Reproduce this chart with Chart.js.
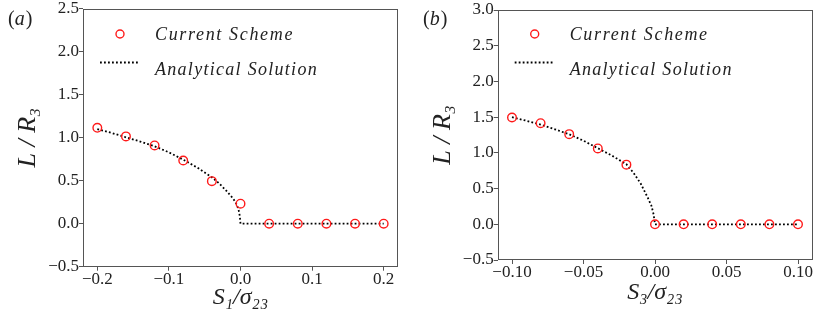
<!DOCTYPE html>
<html>
<head>
<meta charset="utf-8">
<script src="https://cdn.jsdelivr.net/npm/chart.js@4.4.0/dist/chart.umd.min.js"></script>
<style>
  html, body { margin: 0; padding: 0; background: #fff; }
  #wrap { display: flex; width: 830px; height: 312px; }
  canvas { display: block; }
</style>
</head>
<body>
<div id="wrap">
  <canvas id="panelA" width="415" height="312"></canvas>
  <canvas id="panelB" width="415" height="312"></canvas>
</div>
<script>
// ── DATA ───────────────────────────────────────────────────────
// (a) S1 / sigma23
const A_SCHEME_X = [-0.2, -0.16, -0.12, -0.08, -0.04, 0, 0.04, 0.08, 0.12, 0.16, 0.2];
const A_SCHEME_Y = [1.115, 1.015, 0.91, 0.735, 0.495, 0.233, 0, 0, 0, 0, 0];
const A_EXACT_X  = [-0.2, -0.18, -0.16, -0.14, -0.12, -0.10, -0.08, -0.06, -0.04, -0.03, -0.02, -0.01, -0.005, -0.0025, -0.001, 0, 0.2];
const A_EXACT_Y  = [1.10, 1.055, 1.005, 0.955, 0.90, 0.83, 0.745, 0.65, 0.54, 0.47, 0.385, 0.29, 0.22, 0.155, 0.09, 0, 0];
const A_X_TICKS  = [-0.2, -0.1, 0, 0.1, 0.2];
const A_Y_TICKS  = [-0.5, 0, 0.5, 1.0, 1.5, 2.0, 2.5];

// (b) S3 / sigma23
const B_SCHEME_X = [-0.1, -0.08, -0.06, -0.04, -0.02, 0, 0.02, 0.04, 0.06, 0.08, 0.1];
const B_SCHEME_Y = [1.495, 1.415, 1.262, 1.062, 0.835, 0, 0, 0, 0, 0, 0];
const B_EXACT_X  = [-0.1, -0.09, -0.08, -0.07, -0.06, -0.05, -0.04, -0.03, -0.02, -0.015, -0.01, -0.005, -0.0025, -0.001, 0, 0.1];
const B_EXACT_Y  = [1.50, 1.45, 1.395, 1.33, 1.26, 1.17, 1.065, 0.96, 0.84, 0.72, 0.57, 0.37, 0.26, 0.14, 0, 0];
const B_X_TICKS  = [-0.10, -0.05, 0, 0.05, 0.10];
const B_Y_TICKS  = [-0.5, 0, 0.5, 1.0, 1.5, 2.0, 2.5, 3.0];

const LEGEND_LABELS = ['Current Scheme', 'Analytical Solution'];

// ── STYLE ──────────────────────────────────────────────────────
const SERIF      = '"Liberation Serif", "DejaVu Serif", serif';
const TEXT_COLOR = '#222';
const AXIS_COLOR = '#555';
const RED        = '#ff1a1a';

const toPts = (xs, ys) => xs.map((x, i) => ({ x, y: ys[i] }));
const fmt = d => v => (v < 0 ? '\u2212' : '') + Math.abs(v).toFixed(d);

// frame, legend and panel tag
const decorPlugin = {
  id: 'decor',
  afterDraw(chart, args, opts) {
    const { ctx, chartArea: a } = chart;
    ctx.save();
    // frame (all four spines)
    ctx.strokeStyle = AXIS_COLOR;
    ctx.lineWidth = 1;
    ctx.strokeRect(Math.round(a.left) + 0.5, Math.round(a.top) + 0.5,
                   Math.round(a.right - a.left) - 1, Math.round(a.bottom - a.top) - 1);

    // legend, inside upper left
    const lx = a.left;
    ctx.strokeStyle = RED;
    ctx.lineWidth = 1.4;
    ctx.beginPath();
    ctx.arc(lx + 37, 34, 4, 0, Math.PI * 2);
    ctx.stroke();

    ctx.strokeStyle = '#000';
    ctx.lineWidth = 1.8;
    ctx.setLineDash([1.8, 2.2]);
    ctx.beginPath();
    ctx.moveTo(lx + 17, 62.5);
    ctx.lineTo(lx + 55, 62.5);
    ctx.stroke();
    ctx.setLineDash([]);

    ctx.fillStyle = TEXT_COLOR;
    ctx.font = 'italic 18px ' + SERIF;
    ctx.textBaseline = 'alphabetic';
    ctx.textAlign = 'left';
    const targets = [139, 163];
    const ys = [40, 75];
    LEGEND_LABELS.forEach((t, i) => {
      ctx.letterSpacing = '0px';
      const w = ctx.measureText(t).width;
      ctx.letterSpacing = ((targets[i] - w) / t.length).toFixed(2) + 'px';
      ctx.fillText(t, lx + 72, ys[i]);
    });
    ctx.letterSpacing = '0px';

    // panel tag (a)/(b)
    ctx.font = '20px ' + SERIF;
    let x = 8;
    ctx.fillText('(', x, 25); x += ctx.measureText('(').width;
    ctx.font = 'italic 20px ' + SERIF;
    ctx.fillText(opts.tag, x, 25); x += ctx.measureText(opts.tag).width + 1;
    ctx.font = '20px ' + SERIF;
    ctx.fillText(')', x, 25);
    ctx.restore();
  }
};

function makePanel(id, p) {
  const ctx = document.getElementById(id).getContext('2d');
  return new Chart(ctx, {
    type: 'scatter',
    data: {
      datasets: [
        {
          label: LEGEND_LABELS[0],
          data: toPts(p.schemeX, p.schemeY),
          pointStyle: 'circle',
          pointRadius: 4.3,
          pointBorderWidth: 1.4,
          pointBorderColor: RED,
          pointBackgroundColor: 'rgba(0,0,0,0)',
          showLine: false,
        },
        {
          label: LEGEND_LABELS[1],
          data: toPts(p.exactX, p.exactY),
          showLine: true,
          pointRadius: 0,
          borderColor: '#000',
          borderWidth: 1.8,
          borderDash: [1.8, 2.2],
          tension: 0,
        },
      ],
    },
    options: {
      responsive: false,
      animation: false,
      devicePixelRatio: 1,
      layout: { padding: { top: p.top, right: p.right, left: 0, bottom: 0 } },
      plugins: {
        legend: { display: false },
        tooltip: { enabled: false },
        decor: { tag: p.tag },
      },
      scales: {
        x: {
          type: 'linear',
          min: p.xMin, max: p.xMax,
          afterBuildTicks: s => { s.ticks = p.xTicks.map(v => ({ value: v })); },
          afterFit: s => { s.height = p.xAxisH; },
          ticks: { color: TEXT_COLOR, font: { family: SERIF, size: 17, lineHeight: 1 }, padding: 0, maxRotation: 0, callback: fmt(p.xDec) },
          grid: { drawOnChartArea: false, drawTicks: true, tickLength: 4, tickColor: AXIS_COLOR },
          border: { display: false },
          title: { display: true, text: p.xTitle, color: TEXT_COLOR, font: { family: SERIF, size: 24, style: 'italic', lineHeight: 1 }, padding: { top: 0, bottom: p.xTitlePad } },
        },
        y: {
          type: 'linear',
          min: -0.5, max: p.yMax,
          afterBuildTicks: s => { s.ticks = p.yTicks.map(v => ({ value: v })); },
          afterFit: s => { s.width = p.yAxisW; },
          ticks: { color: TEXT_COLOR, font: { family: SERIF, size: 17, lineHeight: 1 }, padding: 0, callback: fmt(1) },
          grid: { drawOnChartArea: false, drawTicks: true, tickLength: 4, tickColor: AXIS_COLOR },
          border: { display: false },
          title: { display: true, text: 'L / R\u2083', color: TEXT_COLOR, font: { family: SERIF, size: 26, style: 'italic', lineHeight: 1 }, padding: { top: 15, bottom: 0 } },
        },
      },
    },
    plugins: [decorPlugin],
  });
}

makePanel('panelA', {
  tag: 'a',
  schemeX: A_SCHEME_X, schemeY: A_SCHEME_Y, exactX: A_EXACT_X, exactY: A_EXACT_Y,
  xTicks: A_X_TICKS, yTicks: A_Y_TICKS, xMin: -0.22, xMax: 0.22, yMax: 2.5, xDec: 1,
  xTitle: 'S\u2081/\u03c3\u2082\u2083',
  top: 8.7, right: 17, yAxisW: 83, xAxisH: 45.3, xTitlePad: 2,
});

makePanel('panelB', {
  tag: 'b',
  schemeX: B_SCHEME_X, schemeY: B_SCHEME_Y, exactX: B_EXACT_X, exactY: B_EXACT_Y,
  xTicks: B_X_TICKS, yTicks: B_Y_TICKS, xMin: -0.11, xMax: 0.11, yMax: 3.0, xDec: 2,
  xTitle: 'S\u2083/\u03c3\u2082\u2083',
  top: 10, right: 17.7, yAxisW: 82.7, xAxisH: 52, xTitlePad: 7,
});
</script>
</body>
</html>
